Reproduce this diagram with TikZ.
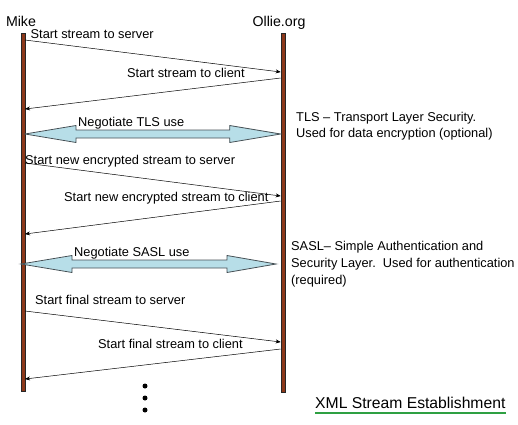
\documentclass[tikz,border=0pt]{standalone}
\usepackage{fontspec}
\setmainfont{Liberation Sans}
\usetikzlibrary{arrows.meta,calc}
\definecolor{lifebrown}{RGB}{140,56,26}
\definecolor{negcyan}{RGB}{183,222,232}
\definecolor{negedge}{RGB}{70,80,85}
\definecolor{titlegreen}{RGB}{46,160,66}
\newcommand{\msgfont}{\fontsize{12.8}{16}\selectfont}
\newcommand{\partyfont}{\fontsize{14.2}{17}\selectfont}
\begin{document}
\begin{tikzpicture}[x=1pt,y=-1pt,
  lifeline/.style={draw=black!85, fill=lifebrown, line width=0.4pt},
  msg/.style={-{Stealth[length=5pt,width=4pt]}, line width=0.5pt},
  msgtext/.style={anchor=base west, inner sep=0pt, font=\msgfont},
  party/.style={anchor=base, inner sep=0pt, font=\partyfont},
  negarrow/.style={draw=negedge, fill=negcyan, line width=0.8pt, line join=miter},
  note/.style={anchor=base west, inner sep=0pt, align=left, font=\msgfont}]
\useasboundingbox (0,0) rectangle (518,424);

% parties
\node[party] (mike) at (21,26) {Mike};
\node[party] (ollie) at (279,26) {Ollie.org};
\draw[lifeline] (20.7,33) rectangle (25,391);
\draw[lifeline] (280.7,33) rectangle (285.5,392);

% stream to server / client
\coordinate (s1) at (25,40);
\coordinate (e1) at (280.7,72);
\draw[msg] (s1) -- (e1);
\node[msgtext] (t1) at (30.5,38.5) {Start stream to server};
\coordinate (s2) at (280.7,78);
\coordinate (e2) at (25,109);
\draw[msg] (s2) -- (e2);
\node[msgtext] (t2) at (127,77.5) {Start stream to client};

% TLS
\coordinate (tlsL) at (25,134);
\coordinate (tlsR) at (280.7,134);
\draw[negarrow] (tlsL) -- ++(51,-8.5) -- ++(0,4.5) -- ($(tlsR)+(-51,-4)$) -- ++(0,-4.5)
  -- (tlsR) -- ++(-51,8.5) -- ++(0,-4.5) -- ($(tlsL)+(51,4)$) -- ++(0,4.5) -- cycle;
\node[msgtext] (tls) at (78,126.5) {Negotiate TLS use};
\node[note] (tlsnote) at (296,137.5) {TLS -- Transport Layer Security.\\Used for data encryption (optional)};

% encrypted streams
\coordinate (s3) at (25,163);
\coordinate (e3) at (280.7,196);
\draw[msg] (s3) -- (e3);
\node[msgtext] (t3) at (25,164.5) {Start new encrypted stream to server};
\coordinate (s4) at (280.7,201);
\coordinate (e4) at (25,234);
\draw[msg] (s4) -- (e4);
\node[msgtext] (t4) at (64,201.5) {Start new encrypted stream to client};

% SASL
\coordinate (saslL) at (21,264);
\coordinate (saslR) at (276,264);
\draw[negarrow] (saslL) -- ++(51,-8.5) -- ++(0,4.5) -- ($(saslR)+(-49,-4)$) -- ++(0,-4.5)
  -- (saslR) -- ++(-49,8.5) -- ++(0,-4.5) -- ($(saslL)+(51,4)$) -- ++(0,4.5) -- cycle;
\node[msgtext] (sasl) at (74,256.5) {Negotiate SASL use};
\node[note, font=\fontsize{12.8}{17}\selectfont] (saslnote) at (291,284.5) {SASL-- Simple Authentication and\\Security Layer.\ \ Used for authentication\\(required)};

% final streams
\coordinate (s5) at (25,311);
\coordinate (e5) at (280.7,342);
\draw[msg] (s5) -- (e5);
\node[msgtext] (t5) at (35,304.5) {Start final stream to server};
\coordinate (s6) at (280.7,349);
\coordinate (e6) at (25,379);
\draw[msg] (s6) -- (e6);
\node[msgtext] (t6) at (98,348.5) {Start final stream to client};

% more to come
\foreach \y in {386,398,410}
  \fill (145,\y) circle (2.5pt);

% title
\node[anchor=base west, inner sep=0pt, font=\fontsize{15.7}{18}\selectfont] (title) at (315,408.5) {XML Stream Establishment};
\draw[titlegreen, line width=2.5pt] (title.west |- 0,413) -- (title.east |- 0,413);
\end{tikzpicture}
\end{document}
